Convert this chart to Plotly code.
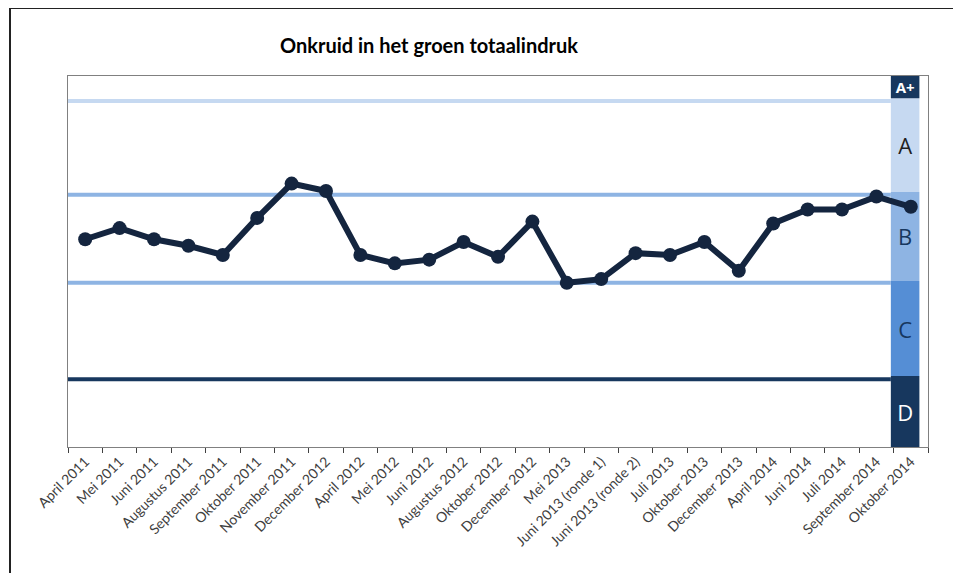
import plotly.graph_objects as go

categories = ["April 2011", "Mei 2011", "Juni 2011", "Augustus 2011", "September 2011",
              "Oktober 2011", "November 2011", "December 2012", "April 2012", "Mei 2012",
              "Juni 2012", "Augustus 2012", "Oktober 2012", "December 2012", "Mei 2013",
              "Juni 2013 (ronde 1)", "Juni 2013 (ronde 2)", "Juli 2013", "Oktober 2013",
              "December 2013", "April 2014", "Juni 2014", "Juli 2014", "September 2014",
              "Oktober 2014"]
scores = [2.24, 2.36, 2.24, 2.17, 2.07, 2.47, 2.84, 2.76, 2.07, 1.98,
          2.02, 2.21, 2.05, 2.43, 1.77, 1.81, 2.09, 2.07, 2.21, 1.90,
          2.41, 2.56, 2.56, 2.70, 2.59]

grade_labels = ["D", "C", "B", "A", "A+"]
grade_bounds = [0.0, 0.765, 1.79, 2.75, 3.76, 4.0]
grade_colors = ["#17375e", "#558ed5", "#8eb4e3", "#c6d9f1", "#17375e"]
grade_text_colors = ["#ffffff", "#17375e", "#17375e", "#1f1f1f", "#ffffff"]
grade_text_sizes = [22, 22, 22, 22, 15]

line_levels = [0.73, 1.77, 2.72, 3.73]
line_colors = ["#17375e", "#8eb4e3", "#8eb4e3", "#c6d9f1"]

n = len(categories)
xs = list(range(n))
band_x = n - 1 - 0.165
band_w = 0.83

# layout geometry (page has an 8px body margin)
ML, MT, PW, PH = 60, 68, 860, 371
W, H = 961, 573
MR = W - ML - PW
MB = H - MT - PH


def px_to_paper_x(px):
    return (px - ML) / PW


def py_to_paper_y(py):
    return (MT + PH - py) / PH


fig = go.Figure()

# grade band (stacked bars)
for i, lab in enumerate(grade_labels):
    fig.add_trace(go.Bar(
        x=[band_x], y=[grade_bounds[i + 1] - grade_bounds[i]], base=[grade_bounds[i]],
        width=band_w, marker=dict(color=grade_colors[i], line=dict(width=0)),
        text=[f"<b>{lab}</b>" if lab == "A+" else lab], textposition="inside",
        insidetextanchor="middle", textangle=0, constraintext="none",
        textfont=dict(color=grade_text_colors[i], size=grade_text_sizes[i], family="Open Sans"),
        hoverinfo="skip", showlegend=False))

# horizontal grade lines
line_end = band_x - band_w / 2
for lv, col in zip(line_levels, line_colors):
    fig.add_trace(go.Scatter(x=[-0.5, line_end], y=[lv, lv], mode="lines",
                             line=dict(color=col, width=4), hoverinfo="skip",
                             showlegend=False))

# main series
fig.add_trace(go.Scatter(x=xs, y=scores, mode="lines+markers",
                         line=dict(color="#14253f", width=6),
                         marker=dict(color="#14253f", size=14),
                         showlegend=False))

# dummy trace for boundary ticks axis
fig.add_trace(go.Scatter(x=[-0.5, n - 0.5], y=[None, None], xaxis="x2",
                         mode="markers", showlegend=False, hoverinfo="skip"))

fig.update_layout(
    width=W, height=H,
    margin=dict(l=ML, r=MR, t=MT, b=MB),
    paper_bgcolor="white", plot_bgcolor="white",
    barmode="overlay",
    title=dict(text="<b>Onkruid in het groen totaalindruk</b>", x=(429 - 8) / W, xanchor="center",
               y=1 - (46 - 8) / H, yanchor="middle",
               font=dict(family="Lato", size=20, color="#000000")),
    xaxis=dict(range=[-0.5, n - 0.5], tickvals=xs, ticktext=categories, tickangle=-45,
               ticks="", showgrid=False, zeroline=False,
               showline=True, linecolor="#808080", linewidth=1, mirror=True,
               tickfont=dict(family="Lato", size=14, color="#404040")),
    xaxis2=dict(range=[-0.5, n - 0.5], overlaying="x", side="bottom",
                tickvals=[i - 0.5 for i in range(n + 1)], showticklabels=False,
                ticks="outside", ticklen=5, tickcolor="#404040", showgrid=False,
                zeroline=False, showline=False),
    yaxis=dict(range=[0, 4], showticklabels=False, ticks="", showgrid=False,
               zeroline=False, showline=True, linecolor="#808080", linewidth=1,
               mirror=True),
    shapes=[
        dict(type="line", xref="paper", yref="paper",
             x0=px_to_paper_x(2), x1=px_to_paper_x(W),
             y0=py_to_paper_y(0), y1=py_to_paper_y(0),
             line=dict(color="#222222", width=2)),
        dict(type="line", xref="paper", yref="paper",
             x0=px_to_paper_x(2), x1=px_to_paper_x(2),
             y0=py_to_paper_y(H), y1=py_to_paper_y(0),
             line=dict(color="#222222", width=2)),
    ],
)

fig.write_html("out.html")
